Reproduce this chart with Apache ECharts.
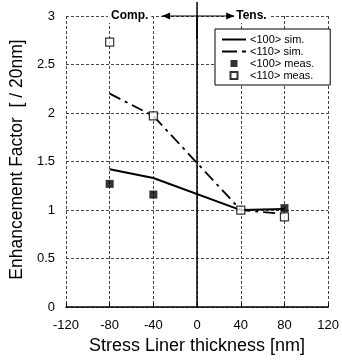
<!DOCTYPE html>
<html><head><meta charset="utf-8">
<script src="https://cdn.jsdelivr.net/npm/echarts@6/dist/echarts.min.js"></script>
<style>html,body{margin:0;padding:0;background:#fff}#c{width:342px;height:360px}</style>
</head><body><div id="c"></div>
<script>
var xValues = [-80, -40, 40, 80];
var sim100 = [1.42, 1.33, 1.0, 1.01];
var sim110 = [2.2, 1.97, 1.0, 0.96];
var meas100 = [1.27, 1.16, null, 1.02];
var meas110 = [2.73, 1.97, 1.0, 0.93];
var seriesNames = ['<100> sim.', '<110> sim.', '<100> meas.', '<110> meas.'];
var xTicks = [-120, -80, -40, 0, 40, 80, 120];
var yTicks = [0, 0.5, 1, 1.5, 2, 2.5, 3];

function pairs(ys){ var r=[]; for(var i=0;i<xValues.length;i++){ if(ys[i]!==null) r.push([xValues[i], ys[i]]); } return r; }

var FONT = 'Liberation Sans, Arial, sans-serif';
var chart = echarts.init(document.getElementById('c'));
var option = {
  animation: false,
  grid: { left: 61, right: 7, top: 16, bottom: 52 },
  xAxis: {
    type: 'value', min: xTicks[0], max: xTicks[xTicks.length-1], interval: 40,
    name: 'Stress Liner thickness [nm]', nameLocation: 'middle', nameGap: 27,
    nameTextStyle: { fontFamily: FONT, fontSize: 18, color: '#000' },
    axisLine: { lineStyle: { color: '#000', width: 1.5 } },
    axisTick: { show: true, inside: true, length: 4, lineStyle: { color: '#000' } },
    axisLabel: { fontFamily: FONT, fontSize: 13, color: '#000', margin: 12 },
    splitLine: { show: true, lineStyle: { color: '#444', type: [3, 2], width: 1 } }
  },
  yAxis: {
    type: 'value', min: yTicks[0], max: yTicks[yTicks.length-1], interval: 0.5,
    name: 'Enhancement Factor  [ / 20nm]', nameLocation: 'middle', nameGap: 31,
    nameTextStyle: { fontFamily: FONT, fontSize: 17.5, color: '#000', padding: [0, 0, 0, 4] },
    axisLine: { show: true, lineStyle: { color: '#000', width: 1.5 } },
    axisTick: { show: false },
    axisLabel: { fontFamily: FONT, fontSize: 13, color: '#000', margin: 11 },
    splitLine: { show: true, lineStyle: { color: '#444', type: [3, 2], width: 1 } }
  },
  legend: {
    left: 215, top: 29, orient: 'vertical', itemGap: 1,
    padding: [5, 16, 4, 7],
    backgroundColor: '#fff', borderColor: '#000', borderWidth: 1,
    itemWidth: 24, itemHeight: 7,
    textStyle: { fontFamily: FONT, fontSize: 11, color: '#000', padding: [0,0,0,-1] },
    data: [
      { name: seriesNames[0], icon: 'path://M0,0h24v2h-24z' },
      { name: seriesNames[1], icon: 'path://M0,0h15v2h-15z M20,0h4v2h-4z' },
      { name: seriesNames[2], icon: 'path://M0,0h6v6h-6z' },
      { name: seriesNames[3], icon: 'path://M0,0h6v6h-6z' }
    ]
  },
  series: [
    { name: seriesNames[0], type: 'line', data: pairs(sim100), showSymbol: false, symbol: 'none',
      lineStyle: { color: '#000', width: 2 }, itemStyle: { color: '#000' }, z: 3 },
    { name: seriesNames[1], type: 'line', data: pairs(sim110), showSymbol: false, symbol: 'none',
      lineStyle: { color: '#000', width: 1.8, type: [12, 5, 3, 5] }, itemStyle: { color: '#000' }, z: 3 },
    { name: seriesNames[2], type: 'scatter', data: pairs(meas100), symbol: 'rect', symbolSize: 8,
      itemStyle: { color: '#000' }, z: 4 },
    { name: seriesNames[3], type: 'scatter', data: pairs(meas110), symbol: 'rect', symbolSize: 8,
      itemStyle: { color: '#fff', borderColor: '#000', borderWidth: 1.2 }, z: 5 }
  ]
};
chart.setOption(option);

// annotations at the top
var p0 = chart.convertToPixel({xAxisIndex:0, yAxisIndex:0}, [0, 3]);
var pl = chart.convertToPixel({xAxisIndex:0, yAxisIndex:0}, [-32, 3]);
var pr = chart.convertToPixel({xAxisIndex:0, yAxisIndex:0}, [34, 3]);
var pComp = chart.convertToPixel({xAxisIndex:0, yAxisIndex:0}, [-80, 3]);
var ay = p0[1];
chart.setOption({
  graphic: [
    { type: 'line', shape: { x1: p0[0], y1: ay - 14, x2: p0[0], y2: ay + 23 }, style: { stroke: '#000', lineWidth: 1.5 }, z: 10 },
    { type: 'line', shape: { x1: pl[0], y1: ay, x2: pr[0], y2: ay }, style: { stroke: '#000', lineWidth: 1.2 }, z: 10 },
    { type: 'polygon', shape: { points: [[pl[0], ay], [pl[0]+8, ay-3.5], [pl[0]+8, ay+3.5]] }, style: { fill: '#000' }, z: 10 },
    { type: 'polygon', shape: { points: [[pr[0], ay], [pr[0]-8, ay-3.5], [pr[0]-8, ay+3.5]] }, style: { fill: '#000' }, z: 10 },
    { type: 'text', x: pComp[0] + 20, y: ay, z: 10,
      style: { text: 'Comp.', font: 'bold 12px ' + FONT, fill: '#000', align: 'center', verticalAlign: 'middle',
               backgroundColor: '#fff', padding: [1, 3] } },
    { type: 'text', x: pr[0] + 1, y: ay, z: 10,
      style: { text: 'Tens.', font: 'bold 12px ' + FONT, fill: '#000', align: 'left', verticalAlign: 'middle',
               backgroundColor: '#fff', padding: [1, 3, 1, 1] } }
  ]
});
</script>
</body></html>
